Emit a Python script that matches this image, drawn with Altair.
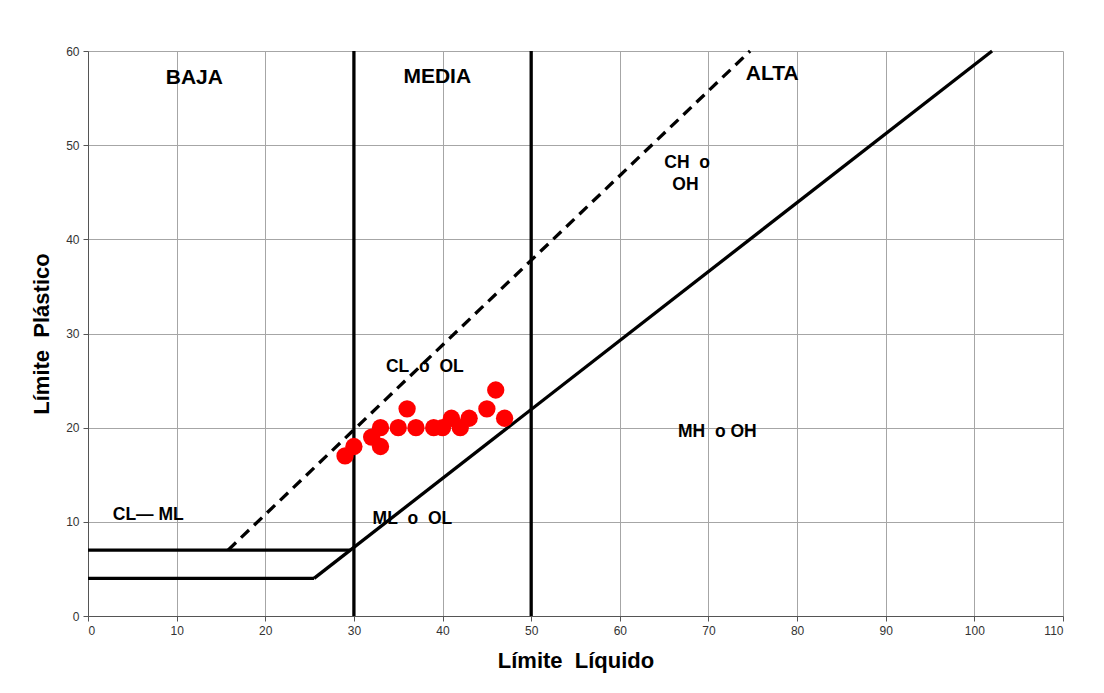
import altair as alt
import pandas as pd

# Data points (Límite Líquido, Límite Plástico)
ll = [29, 30, 32, 33, 33, 35, 36, 37, 39, 40, 41, 42, 43, 45, 46, 47]
lp = [17, 18, 19, 18, 20, 20, 22, 20, 20, 20, 21, 20, 21, 22, 24, 21]

# Solid reference lines (x, y, x2, y2)
solid_x = [0, 25.5, 0, 30, 50]
solid_y = [4, 4, 7, 0, 0]
solid_x2 = [25.5, 102, 29.6, 30, 50]
solid_y2 = [4, 60, 7, 60, 60]

# Dashed U-line
dash_x = [15.8]
dash_y = [7]
dash_x2 = [74.7]
dash_y2 = [60]

NB = "\u00a0"
# Zone labels
lab_text = ["BAJA", "MEDIA", "ALTA", "CH" + NB + NB + "o", "OH",
            "CL" + NB + NB + "o" + NB + NB + "OL", "MH" + NB + NB + "o" + NB + "OH",
            "ML" + NB + NB + "o" + NB + NB + "OL", "CL\u2014 ML"]
lab_x = [12, 39.4, 77.2, 67.6, 67.4, 38, 71, 36.6, 6.8]
lab_y = [57.1, 57.2, 57.6, 48.1, 45.8, 26.4, 19.5, 10.3, 10.7]
lab_size = ["big", "big", "big", "small", "small", "small", "small", "small", "small"]

pts = pd.DataFrame({"ll": ll, "lp": lp})
solid = pd.DataFrame({"x": solid_x, "y": solid_y, "x2": solid_x2, "y2": solid_y2})
dashed = pd.DataFrame({"x": dash_x, "y": dash_y, "x2": dash_x2, "y2": dash_y2})
labels = pd.DataFrame({"t": lab_text, "x": lab_x, "y": lab_y, "s": lab_size})

FONT = "Liberation Sans"

xs = alt.Scale(domain=[0, 110], nice=False, zero=False)
ys = alt.Scale(domain=[0, 60], nice=False, zero=False)

xaxis = alt.Axis(values=list(range(0, 111, 10)), title="Límite" + NB + NB + "Líquido", grid=True,
                 labelFontSize=12, titleFontSize=22, titleFontWeight="bold",
                 titlePadding=14, labelPadding=4, tickSize=5)
yaxis = alt.Axis(values=list(range(0, 61, 10)), title="Límite" + NB + NB + "Plástico", grid=True,
                 labelFontSize=12, titleFontSize=22, titleFontWeight="bold",
                 titlePadding=12, labelPadding=4, tickSize=5)

solid_layer = alt.Chart(solid).mark_rule(color="black", strokeWidth=3.3).encode(
    x=alt.X("x:Q", scale=xs, axis=xaxis),
    y=alt.Y("y:Q", scale=ys, axis=yaxis),
    x2="x2:Q",
    y2="y2:Q",
)

dash_layer = alt.Chart(dashed).mark_rule(color="black", strokeWidth=3.3, strokeDash=[11, 7]).encode(
    x=alt.X("x:Q", scale=xs),
    y=alt.Y("y:Q", scale=ys),
    x2="x2:Q",
    y2="y2:Q",
)

pt_layer = alt.Chart(pts).mark_circle(color="#ff0000", opacity=1, size=300).encode(
    x=alt.X("ll:Q", scale=xs),
    y=alt.Y("lp:Q", scale=ys),
)

big_text = alt.Chart(labels).transform_filter("datum.s == 'big'").mark_text(
    fontSize=21, fontWeight="bold", font=FONT, color="black", align="center", baseline="middle"
).encode(x=alt.X("x:Q", scale=xs), y=alt.Y("y:Q", scale=ys), text="t:N")

small_text = alt.Chart(labels).transform_filter("datum.s == 'small'").mark_text(
    fontSize=17.5, fontWeight="bold", font=FONT, color="black", align="center", baseline="middle"
).encode(x=alt.X("x:Q", scale=xs), y=alt.Y("y:Q", scale=ys), text="t:N")

chart = alt.layer(solid_layer, dash_layer, pt_layer, big_text, small_text).properties(
    width=975,
    height=565,
    padding={"left": 80, "top": 43, "right": 25, "bottom": 62},
    autosize=alt.AutoSizeParams(type="none"),
    background="white",
).configure_view(stroke=None).configure_axis(
    labelFont=FONT, titleFont=FONT, labelColor="#333333", titleColor="black",
    gridColor="#a6a6a6", gridWidth=1, domainColor="#555555", tickColor="#555555",
)

chart.save("out.html", embed_options={"renderer": "svg", "actions": False})
